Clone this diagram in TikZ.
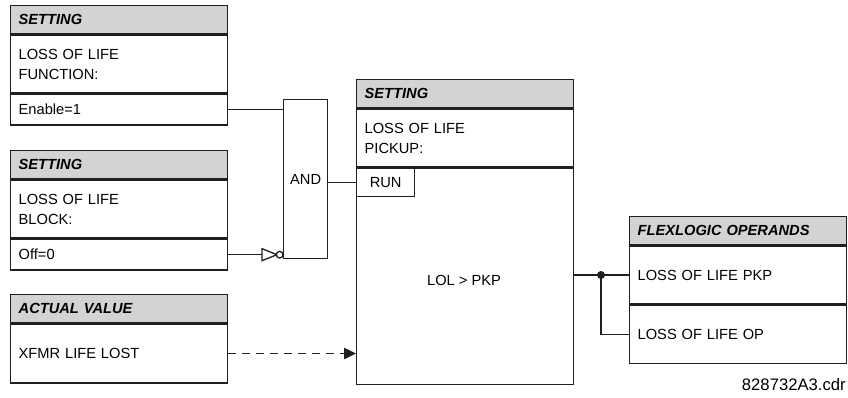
\documentclass[tikz,border=0pt]{standalone}
\usepackage{fontspec}
\setmainfont{Liberation Sans}
\usepackage{tikz}
\usetikzlibrary{positioning, arrows.meta}
\definecolor{hdrgray}{RGB}{209,211,212}
\definecolor{ink}{RGB}{35,31,32}

\begin{document}
\begin{tikzpicture}[
  x=0.75pt, y=-0.75pt,
  font=\fontsize{11pt}{15pt}\selectfont,
  >={Triangle[length=9pt,width=8.5pt]},
  hdr/.style={rectangle, draw=ink, fill=hdrgray, line width=1pt, align=left,
              text width=150.75pt, inner xsep=6pt, inner ysep=0pt, minimum height=21pt,
              font=\fontsize{11pt}{15pt}\selectfont\bfseries\itshape},
  txt/.style={rectangle, draw=ink, fill=white, line width=1pt, align=left,
              text width=150.75pt, inner xsep=6pt, inner ysep=0pt, minimum height=43.5pt},
  val/.style={txt, minimum height=23pt},
  gate/.style={rectangle, draw=ink, fill=white, line width=1pt, inner sep=0pt,
               minimum width=33pt, minimum height=119.25pt},
  wire/.style={draw=ink, line width=1pt},
  dsh/.style={->, draw=ink, line width=1pt, dash pattern=on 6pt off 4.5pt}
]
\useasboundingbox (0,0) rectangle (848,397);
\node[hdr, anchor=north west] (set1) at (10,5) {SETTING};
\node[txt, below=0pt of set1] (func) {LOSS OF LIFE\\FUNCTION:};
\node[val, below=0pt of func] (en) {Enable=1};
\node[hdr, anchor=north west] (set2) at (10,150) {SETTING};
\node[txt, below=0pt of set2] (blk) {LOSS OF LIFE\\BLOCK:};
\node[val, below=0pt of blk] (off) {Off=0};
\node[hdr, anchor=north west] (actv) at (10,294) {ACTUAL VALUE};
\node[txt, below=0pt of actv, minimum height=44.25pt] (xfmr) {XFMR LIFE LOST};
\node[gate, anchor=north west] (and) at (283,99) {AND};
\node[hdr, anchor=north west] (set3) at (356,79) {SETTING};
\node[txt, below=0pt of set3] (pkup) {LOSS OF LIFE\\PICKUP:};
\node[txt, below=0pt of pkup, minimum height=162pt] (lol) {};
\node[rectangle, draw=ink, fill=white, line width=1pt, anchor=north west, inner sep=0pt,
      minimum width=43.5pt, minimum height=21pt] (run) at (lol.north west) {RUN};
\node (cmp) at (464,280) {LOL > PKP};
\node[hdr, anchor=north west] (flex) at (629,216) {FLEXLOGIC OPERANDS};
\node[txt, below=0pt of flex] (pkp) {LOSS OF LIFE PKP};
\node[txt, below=0pt of pkp] (op) {LOSS OF LIFE OP};
\node[anchor=east, inner sep=0pt, font=\fontsize{12.5pt}{14pt}\selectfont] (fig) at (846,385) {828732A3.cdr};
\coordinate (inv) at ([xshift=-15.75pt]and.west |- off.east);
\coordinate (dot) at ([xshift=-21pt]pkp.west);
\draw[wire] (en.east) -- (and.west |- en.east);
\draw[wire] (off.east) -- (inv);
\draw[wire, fill=white] (inv) ++(0,-6) -- ++(15,6) -- ++(-15,6) -- cycle;
\draw[wire, fill=white] ([xshift=-2.5pt]and.west |- off.east) circle[radius=2.5pt];
\draw[wire] (and.east |- run.west) -- (run.west);
\draw[dsh] (xfmr.east) -- (lol.west |- xfmr.east);
\draw[wire] (lol.east |- pkp.west) -- (pkp.west);
\draw[wire] (dot) |- (op.west);
\fill[ink] (dot) circle[radius=3pt];
\end{tikzpicture}
\end{document}
